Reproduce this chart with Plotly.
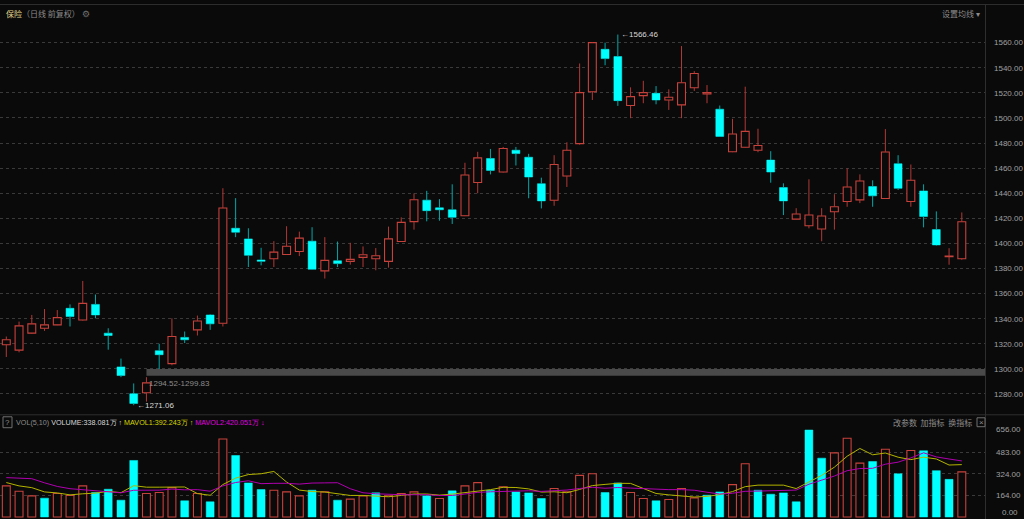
import numpy as np
import pandas as pd
import plotly.graph_objects as go

# ---------------- data ----------------
open_ = [1319.3, 1315.0, 1328.5, 1332.4, 1335.1, 1348.3, 1339.0, 1351.4, 1328.5, 1301.6,
         1280.2, 1281.0, 1314.5, 1304.2, 1325.1, 1331.1, 1343.0, 1336.4, 1412.1, 1403.6,
         1386.8, 1387.8, 1391.2, 1393.6, 1401.8, 1378.1, 1386.2, 1385.7, 1388.9, 1387.8,
         1385.7, 1401.5, 1417.4, 1434.5, 1428.4, 1426.8, 1422.1, 1448.5, 1467.7, 1456.9,
         1474.3, 1468.7, 1447.6, 1434.4, 1453.7, 1479.5, 1520.9, 1554.7, 1548.9, 1509.9,
         1517.8, 1519.6, 1514.3, 1510.4, 1524.1, 1519.1, 1507.0, 1473.0, 1476.6, 1474.3,
         1466.4, 1444.5, 1419.4, 1414.1, 1411.5, 1425.2, 1433.4, 1434.7, 1445.3, 1435.8,
         1463.5, 1433.4, 1441.8, 1411.0, 1389.4, 1387.8]
high = [1325.8, 1337.7, 1343.0, 1347.7, 1346.9, 1351.4, 1370.1, 1359.3, 1332.4, 1308.2,
        1288.4, 1293.4, 1320.0, 1340.3, 1329.8, 1342.5, 1343.5, 1444.0, 1436.1, 1412.1,
        1396.5, 1401.8, 1413.7, 1409.4, 1412.9, 1405.0, 1401.5, 1400.5, 1397.6, 1396.3,
        1413.4, 1420.8, 1439.8, 1441.9, 1435.3, 1447.1, 1464.3, 1473.0, 1475.3, 1476.9,
        1476.9, 1471.4, 1452.4, 1470.3, 1480.6, 1543.4, 1560.5, 1560.0, 1566.46, 1524.4,
        1529.6, 1525.4, 1522.8, 1557.3, 1537.3, 1526.2, 1509.9, 1499.3, 1524.9, 1491.4,
        1473.5, 1447.9, 1428.1, 1451.1, 1428.1, 1439.2, 1459.8, 1455.0, 1450.3, 1491.1,
        1470.3, 1462.9, 1447.1, 1425.5, 1396.2, 1424.7]
low = [1309.5, 1313.2, 1328.0, 1330.3, 1334.8, 1333.8, 1338.5, 1340.3, 1315.3, 1293.4,
       1271.06, 1273.9, 1299.5, 1302.9, 1320.6, 1326.6, 1331.1, 1333.8, 1405.0, 1381.2,
       1382.5, 1381.2, 1390.8, 1389.9, 1379.2, 1372.0, 1381.2, 1383.1, 1381.2, 1378.6,
       1380.7, 1401.2, 1411.0, 1417.6, 1418.1, 1415.5, 1421.8, 1440.0, 1455.0, 1456.5,
       1462.1, 1436.0, 1427.9, 1430.0, 1445.0, 1478.7, 1514.3, 1542.0, 1509.6, 1499.8,
       1511.7, 1510.9, 1506.4, 1499.8, 1521.5, 1511.7, 1485.0, 1472.7, 1476.3, 1472.7,
       1448.4, 1422.6, 1419.1, 1412.0, 1401.7, 1411.0, 1429.2, 1432.1, 1429.2, 1435.5,
       1442.6, 1429.2, 1412.8, 1398.3, 1383.0, 1387.0]
close = [1323.2, 1334.3, 1335.9, 1335.1, 1340.9, 1341.7, 1352.2, 1343.0, 1326.6, 1294.7,
         1272.5, 1288.9, 1311.3, 1325.8, 1323.2, 1338.2, 1335.9, 1428.2, 1408.9, 1390.5,
         1385.7, 1393.1, 1397.8, 1404.2, 1379.4, 1386.5, 1383.9, 1387.3, 1391.0, 1390.2,
         1403.6, 1416.8, 1434.8, 1426.1, 1426.8, 1420.8, 1454.5, 1468.2, 1458.2, 1475.6,
         1471.6, 1452.9, 1433.9, 1462.9, 1474.3, 1520.2, 1560.0, 1547.3, 1513.8, 1517.0,
         1520.2, 1514.3, 1516.5, 1528.1, 1535.4, 1520.2, 1485.3, 1487.2, 1489.3, 1478.0,
         1456.9, 1433.9, 1423.4, 1422.6, 1421.8, 1429.2, 1445.0, 1449.7, 1437.9, 1472.9,
         1443.9, 1450.3, 1421.5, 1398.8, 1389.9, 1417.3]
# volume in 万 (10k) lots
volume = [232.8, 193.2, 158.5, 141.2, 175.8, 161.0, 232.8, 183.3, 208.0, 126.2,
          423.4, 175.8, 183.3, 220.4, 121.3, 175.8, 113.9, 584.4, 460.6, 255.1,
          205.5, 200.6, 188.2, 158.5, 200.6, 188.2, 126.2, 133.7, 158.5, 180.8,
          158.5, 175.8, 188.2, 158.5, 138.7, 195.7, 232.8, 257.5, 200.5, 225.3,
          188.2, 180.7, 138.6, 213.0, 188.2, 312.0, 324.4, 183.2, 255.0, 183.2,
          138.6, 121.3, 131.2, 213.0, 143.6, 163.4, 188.2, 242.7, 398.7, 200.5,
          170.8, 180.7, 114.0, 651.3, 440.7, 480.4, 589.4, 403.7, 415.1, 507.7,
          323.395, 498.3, 495.8, 347.2, 281.834, 338.081]
# estimated volumes of the 9 sessions before the visible window (for the MAs)
prior_volume = [233.0, 199.0, 451.0, 446.0, 331.0, 318.0, 224.0, 301.0, 214.0]
prior_close = 1318.0

title_name = "保险"
title_mode = "（日线 前复权）"
gap_low, gap_high, gap_start = 1294.52, 1299.83, 11
price_ticks = list(range(1280, 1561, 20))
vol_ticks = [164, 324, 483, 656]
vol_zero_label = 0

# ---------------- derived ----------------
n = len(close)
idx = np.arange(n)
o = np.array(open_); h = np.array(high); l = np.array(low); c = np.array(close)
v = np.array(volume)
allv = pd.Series(prior_volume + volume)
ma5 = allv.rolling(5).mean().to_numpy()[len(prior_volume):]
ma10 = allv.rolling(10).mean().to_numpy()[len(prior_volume):]
prev_c = np.r_[prior_close, c[:-1]]
vol_up = c >= prev_c
up = c >= o

RED = "#c8423c"
RED_WICK = "#b03a36"
CYAN = "#00ffff"
CYAN_WICK = "#00a8a8"
BG = "#0a0a0a"
GRID = "#3a3a3a"
TXT = "#a0a0a0"
NUMFONT = "Liberation Sans"
CJK = "Noto Sans CJK SC"

fig = go.Figure()

def wick_xy(mask):
    xs, ys = [], []
    for i in idx[mask]:
        top, bot = max(o[i], c[i]), min(o[i], c[i])
        xs += [i, i, None, i, i, None]
        ys += [h[i], top, None, bot, l[i], None]
    return xs, ys

for mask, col in ((up, RED_WICK), (~up, CYAN_WICK)):
    xs, ys = wick_xy(mask)
    fig.add_trace(go.Scatter(x=xs, y=ys, mode="lines", line=dict(color=col, width=1),
                             hoverinfo="skip", showlegend=False, xaxis="x", yaxis="y"))

body_h = np.maximum(np.abs(c - o), 0.5)
body_b = np.minimum(o, c)
fig.add_trace(go.Bar(x=idx[up], y=body_h[up], base=body_b[up], width=0.62,
                     marker=dict(color=BG, line=dict(color=RED, width=1.1)),
                     hoverinfo="skip", showlegend=False, xaxis="x", yaxis="y"))
fig.add_trace(go.Bar(x=idx[~up], y=body_h[~up], base=body_b[~up], width=0.62,
                     marker=dict(color=CYAN, line=dict(color=CYAN, width=0.5)),
                     hoverinfo="skip", showlegend=False, xaxis="x", yaxis="y"))

# volume
fig.add_trace(go.Bar(x=idx[vol_up], y=v[vol_up], width=0.62,
                     marker=dict(color=BG, line=dict(color=RED, width=1.1)),
                     hoverinfo="skip", showlegend=False, xaxis="x2", yaxis="y2"))
fig.add_trace(go.Bar(x=idx[~vol_up], y=v[~vol_up], width=0.62,
                     marker=dict(color=CYAN, line=dict(color=CYAN, width=0.5)),
                     hoverinfo="skip", showlegend=False, xaxis="x2", yaxis="y2"))
fig.add_trace(go.Scatter(x=idx, y=ma5, mode="lines", line=dict(color="#b4b400", width=1),
                         hoverinfo="skip", showlegend=False, xaxis="x2", yaxis="y2"))
fig.add_trace(go.Scatter(x=idx, y=ma10, mode="lines", line=dict(color="#b000b0", width=1),
                         hoverinfo="skip", showlegend=False, xaxis="x2", yaxis="y2"))

W, H = 1024, 519
XR = [-0.495, 76.82]
xdom = [0, 985 / W]
fig.update_layout(
    width=W, height=H, margin=dict(l=0, r=0, t=0, b=0),
    paper_bgcolor=BG, plot_bgcolor=BG, barmode="overlay", showlegend=False,
    xaxis=dict(domain=xdom, range=XR, showticklabels=False, showgrid=False,
               zeroline=False, anchor="y", fixedrange=True),
    yaxis=dict(domain=[(H - 413) / H, (H - 21) / H], range=[1264.2, 1574.2], side="right",
               tickvals=price_ticks, ticktext=[f"{t:.2f}" for t in price_ticks],
               tickfont=dict(family=NUMFONT, size=8, color=TXT), ticks="",
               ticklabelstandoff=8, showgrid=True, gridcolor=GRID, griddash="dot",
               gridwidth=1, zeroline=False, anchor="x"),
    xaxis2=dict(domain=xdom, range=XR, showticklabels=False, showgrid=False,
                zeroline=False, anchor="y2", matches="x"),
    yaxis2=dict(domain=[0, 91 / H], range=[-14.86, 661.2], side="right",
                tickvals=vol_ticks, ticktext=[f"{t:.2f}" for t in vol_ticks],
                tickfont=dict(family=NUMFONT, size=8, color=TXT), ticks="",
                ticklabelstandoff=10, showgrid=True, gridcolor=GRID, griddash="dot",
                gridwidth=1, zeroline=False, anchor="x2"),
)

# zero label of the volume axis (drawn slightly above the baseline, as in the terminal)
fig.add_annotation(x=1020 / W, y=vol_zero_label, xref="paper", yref="y2", xanchor="right",
                   yanchor="middle", yshift=5, showarrow=False, text=f"{vol_zero_label:.2f}",
                   font=dict(family=NUMFONT, size=8, color=TXT))

# gap band (drawn over the dotted grid line)
fig.add_shape(type="rect", xref="x", yref="y", x0=gap_start, x1=XR[1],
              y0=gap_low, y1=gap_high, fillcolor="#4a4a4a", line_width=0, layer="above")
fig.add_annotation(x=gap_start, y=gap_low, xref="x", yref="y", xanchor="left", yanchor="top",
                   xshift=1, yshift=-1, showarrow=False, text=f"{gap_low:.2f}-{gap_high:.2f}",
                   font=dict(family=NUMFONT, size=8, color="#8c8c8c"))

# extreme price labels
imin = int(np.argmin(l)); imax = int(np.argmax(h))
for i, val in ((imin, l[imin]), (imax, h[imax])):
    fig.add_annotation(x=i, y=val, xref="x", yref="y", xanchor="left", yanchor="middle",
                       xshift=1, showarrow=False, text=f"←{val:.2f}",
                       font=dict(family=NUMFONT, size=8, color="#d8d8d8"))

# frame lines
line_c = "#2e2e2e"
for shp in (
    dict(x0=0, x1=1, y0=1 - 0.5 / H, y1=1 - 0.5 / H),
    dict(x0=0, x1=1, y0=(H - 414) / H, y1=(H - 414) / H),
    dict(x0=985.5 / W, x1=985.5 / W, y0=0, y1=1),
):
    fig.add_shape(type="line", xref="paper", yref="paper", line=dict(color=line_c, width=1), **shp)

def px(xp, yp):
    return xp / W, 1 - yp / H

# header
x0, y0 = px(4, 10)
fig.add_annotation(x=x0, y=y0, xref="paper", yref="paper", xanchor="left", yanchor="middle",
                   showarrow=False,
                   text=f"<span style='color:#e0d890'>{title_name}</span>"
                        f"<span style='color:#8c8c8c'>{title_mode}</span>",
                   font=dict(family=CJK, size=8))
x0, y0 = px(80, 10)
fig.add_annotation(x=x0, y=y0, xref="paper", yref="paper", xanchor="left", yanchor="middle",
                   showarrow=False, text="⚙", font=dict(family="DejaVu Sans", size=9, color="#707070"))
x0, y0 = px(982, 10)
fig.add_annotation(x=x0, y=y0, xref="paper", yref="paper", xanchor="right", yanchor="middle",
                   showarrow=False, text="设置均线 ▾", font=dict(family=CJK, size=8, color="#8c8c8c"))

# volume header
def arrow(cur, prev):
    return "↑" if cur >= prev else "↓"

a_v = arrow(v[-1], v[-2]); a_1 = arrow(ma5[-1], ma5[-2]); a_2 = arrow(ma10[-1], ma10[-2])
fig.add_shape(type="rect", xref="paper", yref="paper",
              x0=3 / W, x1=12 / W, y0=1 - 427 / H, y1=1 - 416 / H,
              line=dict(color="#707070", width=1), fillcolor=BG)
x0, y0 = px(7.5, 421.5)
fig.add_annotation(x=x0, y=y0, xref="paper", yref="paper", xanchor="center", yanchor="middle",
                   showarrow=False, text="?", font=dict(family=NUMFONT, size=8, color="#909090"))
x0, y0 = px(14, 421.5)
fig.add_annotation(
    x=x0, y=y0, xref="paper", yref="paper", xanchor="left", yanchor="middle", showarrow=False,
    text=(f"<span style='color:#8c8c8c'>VOL(5,10)</span> "
          f"<span style='color:#d8d8d8'>VOLUME:{v[-1]:.3f}万 {a_v}</span> "
          f"<span style='color:#d8d800'>MAVOL1:{ma5[-1]:.3f}万 {a_1}</span> "
          f"<span style='color:#e000e0'>MAVOL2:{ma10[-1]:.3f}万 {a_2}</span>"),
    font=dict(family=NUMFONT, size=7.2))
x0, y0 = px(974, 421.5)
fig.add_annotation(x=x0, y=y0, xref="paper", yref="paper", xanchor="right", yanchor="middle",
                   showarrow=False, text="改参数  加指标  换指标",
                   font=dict(family=CJK, size=8, color="#8c8c8c"))
fig.add_shape(type="rect", xref="paper", yref="paper",
              x0=977 / W, x1=985 / W, y0=1 - 426 / H, y1=1 - 417 / H,
              line=dict(color="#707070", width=1))
x0, y0 = px(981, 421.5)
fig.add_annotation(x=x0, y=y0, xref="paper", yref="paper", xanchor="center", yanchor="middle",
                   showarrow=False, text="×", font=dict(family=NUMFONT, size=8, color="#909090"))

fig.write_html("out.html", config={"displayModeBar": False},
               post_script="document.body.style.margin='0';document.body.style.overflow='hidden';"
                           "document.documentElement.style.background='#0a0a0a';")
